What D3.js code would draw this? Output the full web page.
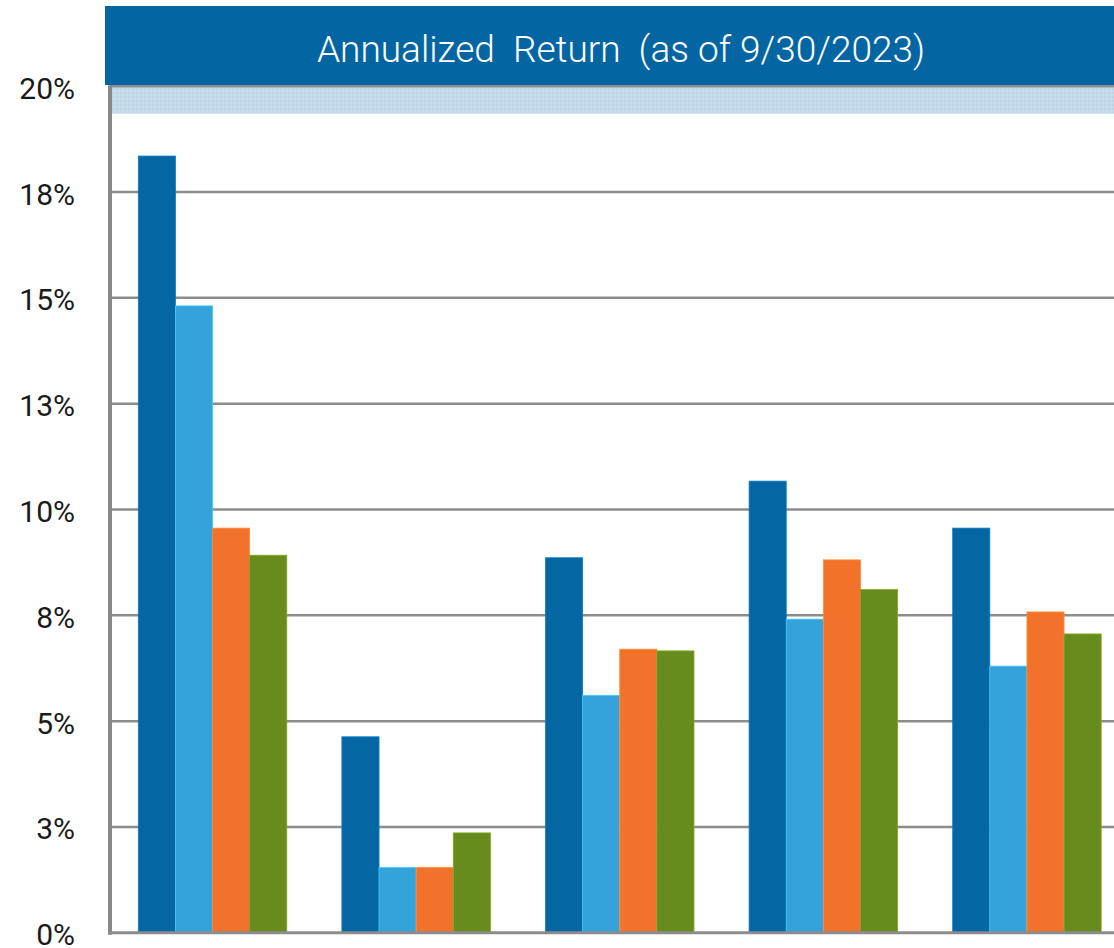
<!DOCTYPE html>
<html>
<head>
<meta charset="utf-8">
<script src="https://cdn.jsdelivr.net/npm/d3@7"></script>
<style>
  html, body { margin: 0; padding: 0; background: #ffffff; }
  svg { display: block; }
</style>
</head>
<body>
<svg id="chart" width="1114" height="948"></svg>
<script>
// ---- data ----
const categories = ["A", "B", "C", "D", "E"];
const seriesNames = ["Series 1", "Series 2", "Series 3", "Series 4"];
const series1 = [18.35, 4.63, 8.86, 10.67, 9.56];
const series2 = [14.81, 1.54, 5.61, 7.41, 6.30];
const series3 = [9.56, 1.54, 6.70, 8.81, 7.58];
const series4 = [8.92, 2.36, 6.66, 8.11, 7.06];
const tickValues = [0, 2.5, 5, 7.5, 10, 12.5, 15, 17.5, 20];
const tickLabels = ["0%", "3%", "5%", "8%", "10%", "13%", "15%", "18%", "20%"];
const bandRange = [20, 19.35];
const title = "Annualized  Return  (as of 9/30/2023)";
const colors = ["#0466a2", "#34a3dc", "#f3722b", "#678b1d"];

const allSeries = [series1, series2, series3, series4];

const svg = d3.select("#chart");
const W = 1114, H = 948;
const left = 110, right = 1129.5;

const y = d3.scaleLinear().domain([0, 20]).range([932.8, 86.2]);
const x0 = d3.scaleBand().domain(categories).range([left, right])
  .paddingInner(0.2706).paddingOuter(0.139);
const x1 = d3.scaleBand().domain(seriesNames).range([0, x0.bandwidth()]).padding(0);

// pattern for top band
const defs = svg.append("defs");
const pat = defs.append("pattern").attr("id", "hatch").attr("patternUnits", "userSpaceOnUse")
  .attr("width", 4).attr("height", 4);
pat.append("rect").attr("width", 4).attr("height", 4).attr("fill", "#c3dbea");
pat.append("rect").attr("width", 2).attr("height", 2).attr("fill", "#bcd6e8");
pat.append("rect").attr("x", 2).attr("y", 2).attr("width", 2).attr("height", 2).attr("fill", "#c8deec");

// title band
svg.append("rect").attr("x", 105).attr("y", 6).attr("width", W - 105).attr("height", 79)
  .attr("fill", "#0366a2");
svg.append("text").attr("x", 621).attr("y", 62).attr("text-anchor", "middle")
  .attr("fill", "#ffffff").attr("font-family", "Roboto, 'Open Sans', sans-serif")
  .attr("font-weight", 300).attr("font-size", 36)
  .style("white-space", "pre")
  .attr("textLength", 608).attr("lengthAdjust", "spacingAndGlyphs")
  .text(title);

// band area
svg.append("rect").attr("x", left + 2).attr("y", y(bandRange[0]) + 1)
  .attr("width", W - left).attr("height", y(bandRange[1]) - y(bandRange[0]) - 1)
  .attr("fill", "url(#hatch)");

// gridlines
svg.append("g").selectAll("line").data(tickValues.filter(d => d > 0)).join("line")
  .attr("x1", left).attr("x2", W)
  .attr("y1", d => y(d)).attr("y2", d => y(d))
  .attr("stroke", "#8c8c8c").attr("stroke-width", 2.5);

// bars
const groups = svg.append("g").selectAll("g").data(categories).join("g")
  .attr("transform", d => `translate(${x0(d)},0)`);
groups.selectAll("rect").data((c, i) => seriesNames.map((s, j) => ({ s, j, v: allSeries[j][i] })))
  .join("rect")
  .attr("x", d => x1(d.s))
  .attr("width", x1.bandwidth())
  .attr("y", d => y(d.v))
  .attr("height", d => y(0) - y(d.v))
  .attr("fill", d => colors[d.j])
  .attr("stroke", d => d3.color(colors[d.j]).brighter(0.6))
  .attr("stroke-width", 0.8);

// axes lines
svg.append("line").attr("x1", left).attr("x2", left).attr("y1", y(20) - 1).attr("y2", y(0) + 2)
  .attr("stroke", "#888888").attr("stroke-width", 4);
svg.append("line").attr("x1", left - 2).attr("x2", W).attr("y1", y(0)).attr("y2", y(0))
  .attr("stroke", "#8c8c8c").attr("stroke-width", 3);

// y axis labels
const yAxis = d3.axisLeft(y).tickValues(tickValues)
  .tickFormat((d, i) => tickLabels[i]).tickSize(0).tickPadding(0);
const gy = svg.append("g").attr("transform", "translate(75,0)").call(yAxis);
gy.select(".domain").remove();
gy.selectAll("text").attr("font-family", "Roboto, 'Open Sans', sans-serif")
  .attr("font-weight", 400).attr("font-size", 30).attr("fill", "#1a1a1a")
  .attr("dy", "0.4em");
</script>
</body>
</html>
